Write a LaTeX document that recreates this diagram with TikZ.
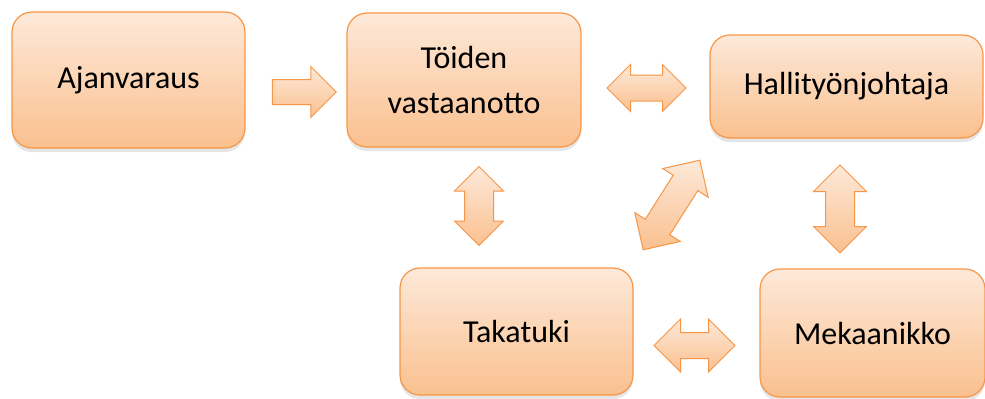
\documentclass[tikz,border=0pt]{standalone}
\usepackage{fontspec}
\setmainfont{Carlito}
\usetikzlibrary{shapes.arrows, shadows}
\definecolor{orangeline}{RGB}{247,150,70}
\definecolor{peachtop}{RGB}{253,233,217}
\definecolor{peachbottom}{RGB}{250,192,143}
\tikzset{
    box/.style={rectangle, rounded corners=10pt, draw=orangeline, line width=0.6pt, top color=peachtop, bottom color=peachbottom, text centered, align=center, inner sep=0pt, font=\fontsize{16}{23}\selectfont, drop shadow={opacity=0.2, shadow xshift=0pt, shadow yshift=-2pt}},
    oneway/.style={single arrow, draw=orangeline, line width=0.5pt, top color=peachtop, bottom color=peachbottom, minimum width=0pt, inner xsep=0pt},
    twoway/.style={double arrow, draw=orangeline, line width=0.5pt, top color=peachtop, bottom color=peachbottom, minimum width=0pt, inner xsep=0pt}
}

\begin{document}
\begin{tikzpicture} [
    x=0.5pt, y=-0.5pt
]
    \clip (0,0) rectangle (985,398);
    \fill[white] (0,0) rectangle (985,398);

    % Booking
    \node[box, minimum width=116.5pt, minimum height=68pt] (ajanvaraus) at (128.5,80) {Ajanvaraus};

    % Reception
    \node[box, minimum width=117pt, minimum height=67pt] (vastaanotto) at (464,80) {Töiden\\vastaanotto};

    % Foreman
    \node[box, minimum width=136.5pt, minimum height=51.5pt] (johtaja) at (846.5,86.5) {Hallityönjohtaja};

    % Back office
    \node[box, minimum width=116.5pt, minimum height=63.5pt] (takatuki) at (516.5,331.5) {Takatuki};

    % Mechanic
    \node[box, minimum width=112.5pt, minimum height=64pt] (mekaanikko) at (872.5,333) {Mekaanikko};

    % Block arrows
    \node[oneway, minimum height=32pt, inner ysep=6pt, single arrow head extend=6.5pt] (a_ajan_vast) at (298,92) {};
    \node[twoway, minimum height=39.5pt, inner ysep=6.25pt, double arrow head extend=5.25pt] (a_vast_joht) at (646.5,88) {};
    \node[twoway, rotate=90, minimum height=39.5pt, inner ysep=7pt, double arrow head extend=5pt] (a_vast_taka) at (479,206) {};
    \node[twoway, rotate=90, minimum height=44pt, inner ysep=7pt, double arrow head extend=6pt] (a_joht_mek) at (840,209) {};
    \node[twoway, rotate=57.7, minimum height=53pt, inner ysep=7pt, double arrow head extend=6.2pt] (a_joht_taka) at (671.5,205) {};
    \node[twoway, minimum height=40.5pt, inner ysep=6.25pt, double arrow head extend=6.75pt] (a_taka_mek) at (694.5,345.5) {};
\end{tikzpicture}
\end{document}
